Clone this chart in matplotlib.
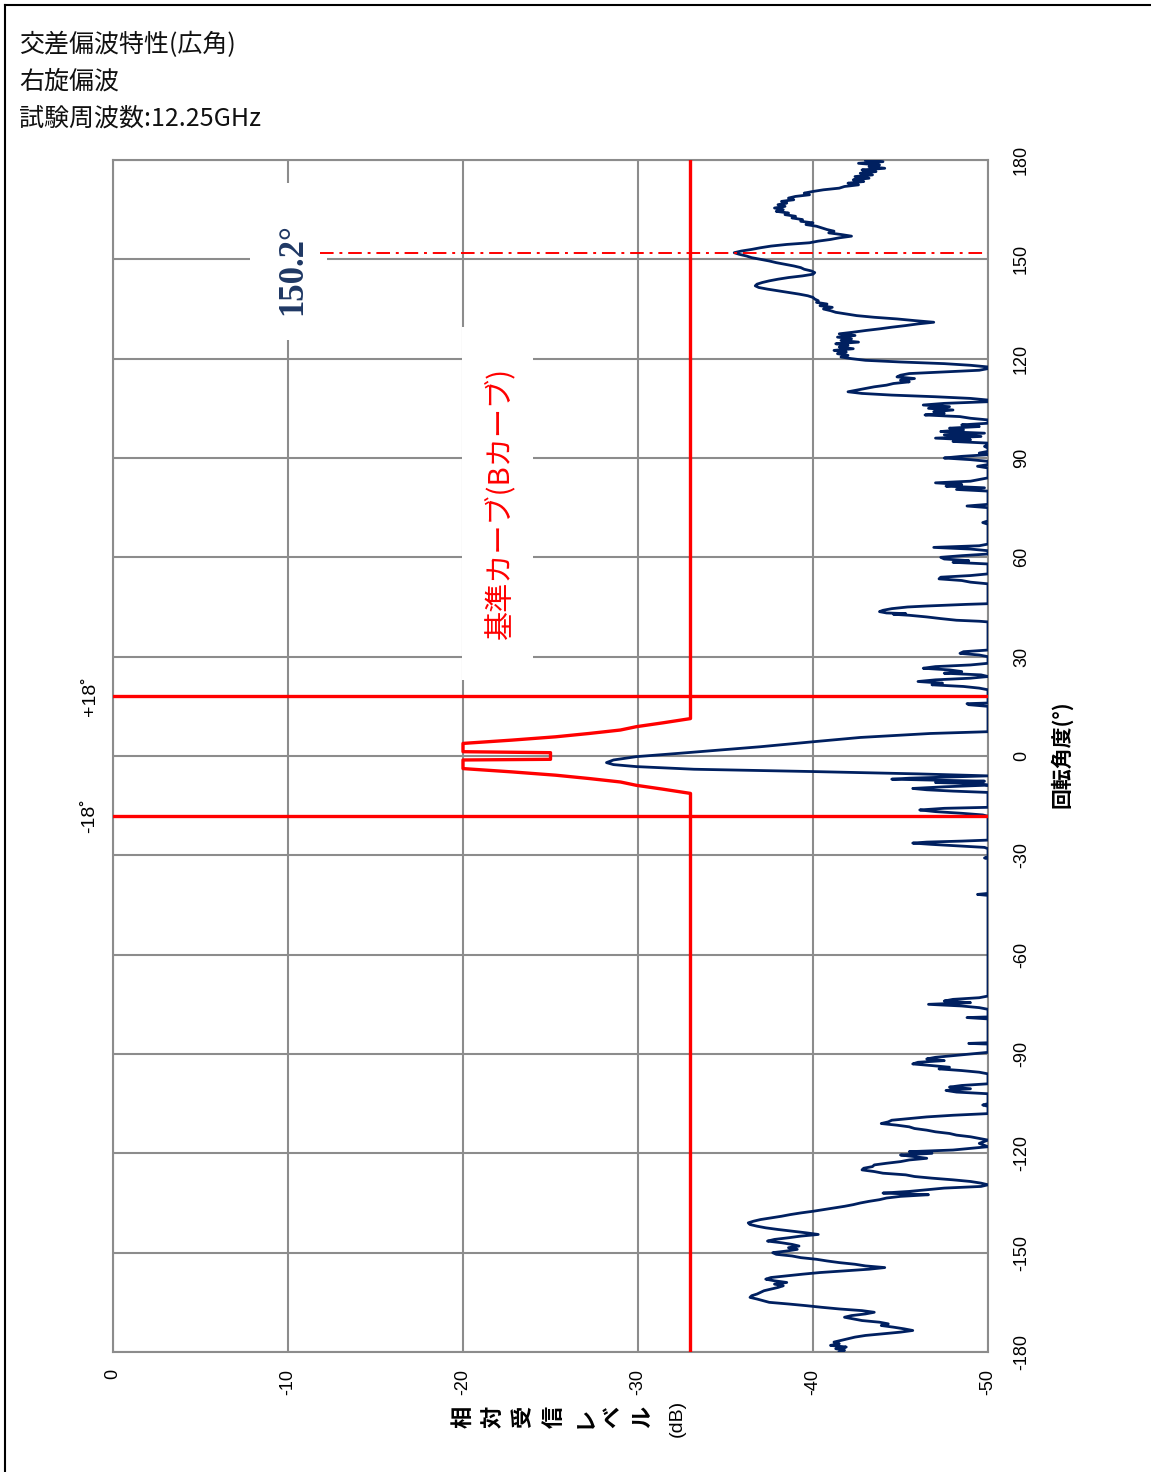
import matplotlib
matplotlib.use("Agg")
import matplotlib.pyplot as plt
from matplotlib.lines import Line2D
from matplotlib.patches import Rectangle

plt.rcParams["axes.unicode_minus"] = False

# ---------------- data ----------------
title_lines = ["交差偏波特性(広角)", "右旋偏波", "試験周波数:12.25GHz"]
level_ticks = [0, -10, -20, -30, -40, -50]
angle_ticks = [-180, -150, -120, -90, -60, -30, 0, 30, 60, 90, 120, 150, 180]

# measured cross-polar trace: (rotation angle [deg], relative level [dB])
trace_pts = [
    (180, -43.0), (179.5, -44.0), (179, -42.6), (178.5, -43.8), (178, -43.2), (177.5, -44.1),
    (177, -42.8), (176.5, -43.6), (176, -42.7), (175.5, -43.4), (175, -42.4), (174.5, -43.2),
    (174, -42.3), (173.5, -42.9), (173, -42.0), (172.5, -42.6), (172, -41.8), (171.5, -41.5),
    (171, -40.6), (170.5, -40.0), (170, -39.5), (169.5, -39.8), (169, -39.0), (168.5, -38.6),
    (168, -38.9), (167.5, -38.2), (167, -38.5), (166.5, -38.0), (166, -38.4), (165.5, -37.8),
    (165, -38.3), (164.5, -37.9), (164, -38.6), (163.5, -38.4), (163, -39.0), (162.5, -38.8),
    (162, -39.4), (161.5, -39.3), (161, -40.0), (160.5, -39.6), (160, -40.2), (159.5, -40.5),
    (159, -40.8), (158.5, -41.2), (158, -40.9), (157.5, -41.6), (157, -42.2), (156.5, -41.5),
    (156, -41.0), (155.5, -40.3), (155, -39.8), (154.5, -38.5), (154, -37.6), (153.5, -37.0),
    (153, -36.5), (152.5, -35.9), (152, -35.5), (151.5, -35.8), (151, -36.2), (150.5, -36.5),
    (150, -37.0), (149.5, -37.5), (149, -37.9), (148.5, -38.4), (148, -38.9), (147.5, -39.3),
    (147, -39.5), (146.5, -39.9), (146, -40.1), (145.5, -40.0), (145, -39.4), (144.5, -38.6),
    (144, -38.0), (143.5, -37.5), (143, -37.1), (142.5, -36.8), (142, -36.7), (141.5, -36.9),
    (141, -37.4), (140.5, -38.0), (140, -38.6), (139.5, -39.2), (139, -39.7), (138.5, -40.0),
    (138, -40.1), (137.5, -40.3), (137, -40.2), (136.5, -40.8), (136, -40.4), (135.5, -41.1),
    (135, -40.6), (134.5, -41.0), (134, -41.3), (133.5, -41.9), (133, -42.5), (132.5, -43.5),
    (132, -44.8), (131.5, -45.8), (131, -46.9), (130.5, -46.0), (130, -45.3), (129.5, -44.5),
    (129, -43.8), (128.5, -43.0), (128, -42.3), (127.5, -41.5), (127, -42.4), (126.5, -41.4),
    (126, -42.2), (125.5, -41.6), (125, -42.6), (124.5, -41.3), (124, -42.0), (123.5, -41.5),
    (123, -42.3), (122.5, -41.2), (122, -41.9), (121.5, -41.4), (121, -42.0), (120.5, -41.6),
    (120, -42.2), (119.5, -43.0), (119, -45.0), (118.5, -47.5), (118, -49.0), (117.5, -50),
    (117, -50), (116.5, -49.5), (116, -47.5), (115.5, -45.5), (115, -45.0), (114.5, -44.8),
    (114, -45.8), (113.5, -45.0), (113, -45.5), (112.5, -44.6), (112, -44.2), (111.5, -43.5),
    (111, -43.0), (110.5, -42.5), (110, -42.0), (109.5, -42.8), (109, -44.5), (108.5, -47.0),
    (108, -49.0), (107.5, -50), (107, -50), (106.5, -47.5), (106, -46.3), (105.5, -47.8),
    (105, -46.6), (104.5, -48.0), (104, -46.9), (103.5, -47.5), (103, -46.4), (102.5, -48.4),
    (102, -49.0), (101.5, -50), (101, -50), (100.5, -50), (100, -48.5), (99.5, -49.5),
    (99, -47.8), (98.5, -48.6), (98, -47.3), (97.5, -49.8), (97, -47.5), (96.5, -49.6),
    (96, -47.0), (95.5, -49.0), (95, -48.0), (94.5, -50), (94, -50), (93.5, -49.8),
    (93, -50), (92, -50), (91.5, -49.5), (91, -50), (90.5, -48.5), (90, -47.5),
    (89.5, -49.0), (89, -50), (88, -50), (87.5, -49.4), (87, -50), (84, -50),
    (83, -49.0), (82.5, -47.0), (82, -48.5), (81.5, -47.6), (81, -49.8), (80.5, -48.2),
    (80, -50), (76, -50), (75.5, -48.8), (75, -50), (71, -50), (70.5, -49.7),
    (70, -50), (64, -50), (63.5, -49.5), (63, -46.9), (62.5, -49.0), (62, -50),
    (61, -50), (60.5, -48.5), (60, -47.3), (59.5, -47.5), (59, -48.9), (58.5, -48.0),
    (58, -50), (55, -50), (54.5, -49.0), (54, -47.3), (53.5, -47.2), (53, -48.5),
    (52.5, -49.0), (52, -50), (46, -50), (45.8, -48.8), (45.3, -46.5), (45, -45.4),
    (44.5, -44.5), (44, -44.0), (43.6, -43.8), (43.2, -44.2), (43, -45.3), (42.8, -44.6),
    (42.5, -45.5), (42, -46.5), (41.5, -47.3), (41, -48.2), (40.7, -49.5), (40.5, -50),
    (32, -50), (31.5, -48.6), (31, -48.4), (30.5, -49.5), (30, -50), (28, -50),
    (27.5, -49.0), (27, -47.0), (26.5, -46.3), (26, -47.8), (25.5, -48.5), (25, -47.5),
    (24.5, -49.6), (24, -50), (23.5, -49.0), (23, -47.0), (22.5, -46.0), (22, -47.4),
    (21.5, -46.8), (21, -48.6), (20.5, -49.5), (20, -50), (16, -50), (15.8, -48.8),
    (15.5, -48.9), (15, -50), (7.34, -50), (6.8, -46.7), (5.6, -42.7), (4.3, -40.0),
    (2.8, -37.0), (1.0, -32.8), (-0.2, -29.9), (-1.2, -28.6), (-2.0, -28.2), (-2.6, -28.6),
    (-3.2, -29.9), (-4.0, -33.2), (-4.7, -40.0), (-5.4, -46.0), (-6.0, -50),
    (-6.3, -48.0), (-6.7, -45.5), (-7.0, -44.5), (-7.3, -47.0), (-7.6, -49.8), (-8.0, -47.0),
    (-8.4, -49.5), (-8.8, -50), (-9.3, -47.5), (-9.8, -45.7), (-10.2, -46.5), (-10.6, -48.0),
    (-11.0, -50), (-15.5, -50), (-15.8, -47.5), (-16.3, -46.1), (-16.8, -47.0), (-17.3, -48.5),
    (-17.8, -49.7), (-18.2, -50), (-25.4, -50), (-25.7, -48.5), (-26, -46.5), (-26.3, -45.7),
    (-26.7, -46.8), (-27.2, -48.5), (-27.6, -49.8), (-28, -50), (-30.5, -50), (-30.8, -49.8),
    (-31, -50), (-41.5, -50), (-41.8, -49.4), (-42.1, -50), (-72.5, -50), (-73, -49.5),
    (-73.5, -48.0), (-74, -47.5), (-74.5, -49.0), (-75, -46.6), (-75.5, -48.5), (-76, -49.5),
    (-76.5, -50), (-78.8, -50), (-79, -48.8), (-79.4, -50), (-86.6, -50), (-86.8, -48.9),
    (-87, -50), (-89.5, -50), (-90, -49.0), (-90.5, -48.0), (-91, -47.0), (-91.5, -46.5),
    (-92, -47.5), (-92.5, -46.0), (-93, -45.7), (-93.5, -46.8), (-94, -47.8), (-94.5, -47.2),
    (-95, -48.5), (-95.5, -49.5), (-96, -50), (-99, -50), (-99.5, -48.5), (-100, -47.8),
    (-100.5, -49.0), (-101, -47.6), (-101.5, -48.2), (-102, -50), (-105, -50), (-105.4, -49.7),
    (-105.8, -50), (-108, -50), (-108.5, -48.0), (-109, -46.5), (-109.5, -45.5), (-110, -44.5),
    (-110.5, -44.3), (-111, -43.9), (-111.5, -44.8), (-112, -45.5), (-112.5, -45.8), (-113, -46.5),
    (-113.5, -47.0), (-114, -47.8), (-114.5, -48.2), (-115, -49.0), (-115.5, -49.5), (-116, -50),
    (-117, -49.5), (-118, -50), (-119, -48.0), (-119.5, -45.5), (-120, -46.8), (-120.5, -45.0),
    (-121, -45.8), (-121.5, -46.5), (-122, -45.5), (-122.5, -45.0), (-123, -44.2), (-123.5, -43.5),
    (-124, -43.4), (-124.5, -42.9), (-125, -42.8), (-125.5, -43.5), (-126, -44.0), (-126.5, -45.3),
    (-127, -45.8), (-127.5, -46.8), (-128, -48.0), (-128.5, -49.0), (-129, -49.6), (-129.5, -50),
    (-130, -49.6), (-130.5, -47.5), (-131, -46.5), (-131.5, -45.5), (-132, -44.0), (-132.5, -46.6),
    (-133, -45.0), (-133.5, -44.2), (-134, -43.8), (-134.5, -43.2), (-135, -42.7), (-135.5, -42.3),
    (-136, -41.8), (-136.5, -41.2), (-137, -40.6), (-137.5, -40.0), (-138, -39.3), (-138.5, -38.7),
    (-139, -38.2), (-139.5, -37.6), (-140, -37.0), (-140.5, -36.6), (-141, -36.3), (-141.5, -36.4),
    (-142, -36.8), (-142.5, -37.3), (-143, -38.0), (-143.5, -38.8), (-144, -39.6), (-144.5, -40.3),
    (-145, -39.3), (-145.5, -38.6), (-146, -37.8), (-146.5, -37.4), (-147, -38.2), (-147.5, -38.8),
    (-148, -39.2), (-148.5, -38.6), (-149, -39.1), (-149.5, -38.5), (-150, -37.7), (-150.5, -37.9),
    (-151, -38.8), (-151.5, -39.3), (-152, -40.2), (-152.5, -40.8), (-153, -41.5), (-153.5, -42.4),
    (-154, -43.0), (-154.5, -44.1), (-155, -43.2), (-155.5, -41.8), (-156, -40.4), (-156.5, -39.4),
    (-157, -38.5), (-157.5, -37.6), (-158, -37.3), (-158.5, -37.8), (-159, -38.5), (-159.5, -37.8),
    (-160, -38.3), (-160.5, -38.0), (-161, -37.6), (-161.5, -37.2), (-162, -37.0), (-162.5, -36.8),
    (-163, -36.5), (-163.5, -36.4), (-164, -36.8), (-165, -37.5), (-165.5, -38.6), (-166, -39.6),
    (-166.5, -40.5), (-167, -41.5), (-167.5, -42.8), (-168, -43.5), (-168.5, -43.0), (-169, -42.2),
    (-169.5, -41.8), (-170, -42.3), (-170.5, -42.8), (-171, -43.8), (-171.5, -44.3), (-172, -43.9),
    (-172.5, -44.6), (-173, -45.2), (-173.5, -45.7), (-174, -45.0), (-174.5, -44.0), (-175, -43.0),
    (-175.5, -42.4), (-176, -42.0), (-176.5, -41.6), (-177, -41.2), (-177.5, -41.5), (-178, -41.0),
    (-178.5, -41.9), (-179, -41.3), (-179.5, -41.8), (-180, -41.5),
]
trace_angle = [p[0] for p in trace_pts]
trace_level = [p[1] for p in trace_pts]

# reference mask (B curve)
mask_angle = [180, 11.3, 10.0, 8.85, 7.85, 6.8, 5.8, 4.8, 3.8, 1.3, 1.0, -1.0, -1.2,
              -3.8, -4.8, -5.8, -6.8, -7.85, -8.85, -10.0, -11.3, -180]
mask_level = [-33, -33, -31.4, -29.9, -29.0, -27.2, -25.3, -22.8, -20, -20, -25, -25, -20,
              -20, -22.8, -25.3, -27.2, -29.0, -29.9, -31.4, -33, -33]

limit_angles = [18, -18]
limit_labels = ["+18˚", "-18˚"]
marker_angle = 152.0
marker_label = "150.2°"
curve_label = "基準カーブ(Bカーブ)"
xlabel_chars = ["相", "対", "受", "信", "レ", "ベ", "ル"]
xlabel_unit = "(dB)"
ylabel = "回転角度(°)"

# ---------------- figure ----------------
W, H = 1151, 1472
fig = plt.figure(figsize=(W / 100, H / 100), dpi=100)
fig.patch.set_facecolor("white")

def fx(x):
    return x / W

def fy(y):
    return 1 - y / H

L, R, T, B = 113, 988, 160, 1352
ax = fig.add_axes([fx(L), fy(B), (R - L) / W, (B - T) / H])
ax.set_xlim(0, -50)
ax.set_ylim(-180, 180)

GRID = "#8c8c8c"
ax.set_xticks(level_ticks)
ax.set_yticks(angle_ticks)
ax.grid(True, color=GRID, lw=1.5, zorder=0)
ax.set_axisbelow(True)
for s in ax.spines.values():
    s.set_color(GRID)
    s.set_linewidth(1.5)

ax.yaxis.tick_right()
ax.tick_params(axis="both", length=0, labelsize=13)
ax.tick_params(axis="x", labelrotation=90, pad=12)
ax.tick_params(axis="y", labelrotation=90, pad=18)
for lab in ax.get_xticklabels() + ax.get_yticklabels():
    lab.set_family("Liberation Sans")
for lab in ax.get_yticklabels():
    lab.set_va("center")

# trace
ax.plot(trace_level, trace_angle, color="#002060", lw=2.0, zorder=4, solid_joinstyle="round")

# mask
ax.plot(mask_level, mask_angle, color="#ff0000", lw=2.4, zorder=5)
for a in limit_angles:
    ax.axhline(a, color="#ff0000", lw=2.4, zorder=5)

# marker line
ax.plot([-11.8, -50], [marker_angle, marker_angle], color="#ff0000", lw=1.4,
        dashes=(7, 3, 1.5, 3), zorder=5)

# white label boxes (hide grid behind labels)
ax.add_patch(Rectangle((-7.8, 125.6), -4.4, 47.5, fc="white", ec="none", zorder=2))
ax.add_patch(Rectangle((-19.92, 23.0), -4.1, 106.6, fc="white", ec="none", zorder=2))

ax.text(-10.3, 147, marker_label, rotation=90, ha="center", va="center", fontsize=25,
        color="#1f3864", family="Liberation Serif", fontweight="bold", zorder=3)
ax.text(-22.1, 76.5, curve_label, rotation=90, ha="center", va="center", fontsize=21,
        color="#ff0000", family=["Noto Sans CJK JP"], zorder=3)

for a, t in zip(limit_angles, limit_labels):
    ax.text(1.31, a, t, rotation=90, ha="center", va="center", fontsize=14,
            family="Liberation Sans", clip_on=False)

# title
for i, t in enumerate(title_lines):
    fig.text(fx(19), fy(45 + 37 * i), t, ha="left", va="center", fontsize=18,
             family=["Noto Sans CJK JP"], color="#111111")

# x label (stacked chars rotated)
xs = [463, 493, 523, 554, 584, 613, 643]
for x, c in zip(xs, xlabel_chars):
    fig.text(fx(x), fy(1417), c, rotation=90, ha="center", va="center", fontsize=16,
             fontweight="bold", family=["Noto Sans CJK JP"])
fig.text(fx(677), fy(1418), xlabel_unit, rotation=90, ha="center", va="center",
         fontsize=14, family="Liberation Sans")

# y label
fig.text(fx(1061), fy(754), ylabel, rotation=90, ha="center", va="center", fontsize=15,
         fontweight="bold", family=["Noto Sans CJK JP", "DejaVu Sans"])

# outer frame
fig.add_artist(Line2D([fx(5), fx(5)], [fy(5), fy(1472)], color="black", lw=1.5))
fig.add_artist(Line2D([fx(5), fx(1151)], [fy(5), fy(5)], color="black", lw=1.5))

fig.savefig("out.png", dpi=100, facecolor="white")
